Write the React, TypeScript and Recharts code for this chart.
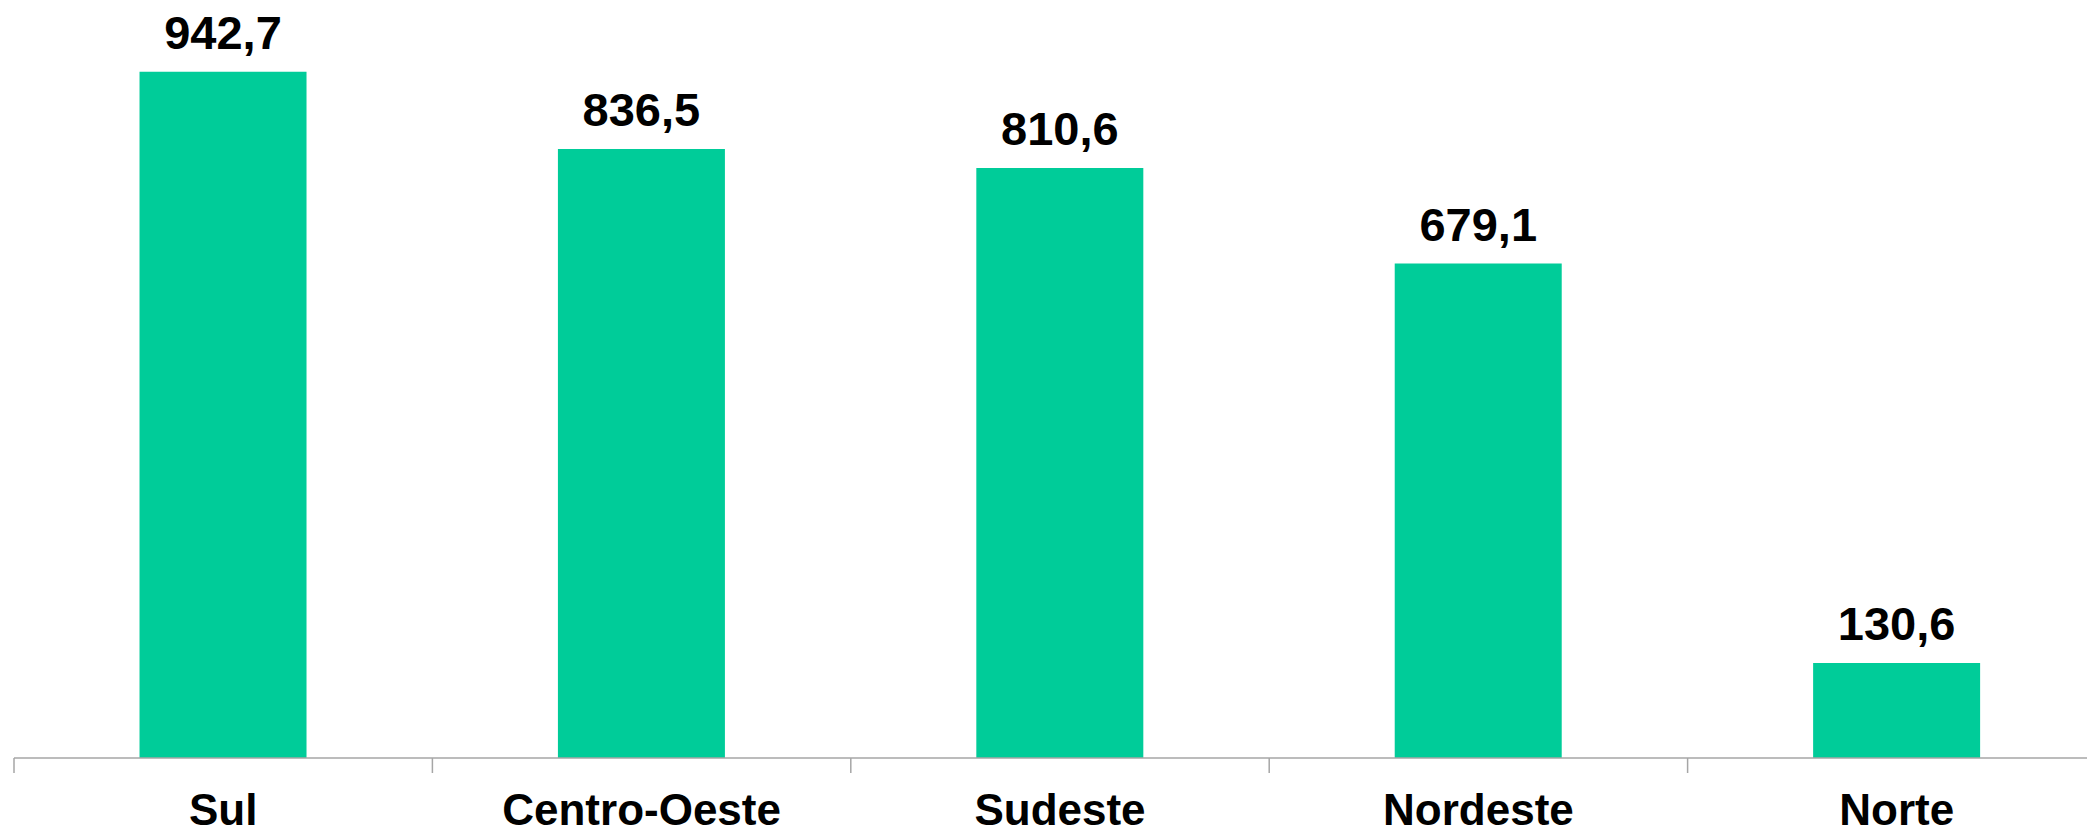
import { BarChart, Bar, XAxis, YAxis, LabelList } from "recharts";

// regiões e valores
const regioes = ["Sul", "Centro-Oeste", "Sudeste", "Nordeste", "Norte"];
const valores = [942.7, 836.5, 810.6, 679.1, 130.6];

const data = regioes.map((regiao, i) => ({ regiao, valor: valores[i] }));

const CHART_W = 2110;
const CHART_H = 836;
const MARGIN = { top: 30, right: 4, left: 14, bottom: 8 };
const BAND = (CHART_W - MARGIN.left - MARGIN.right) / regioes.length;

const formatValor = (v: number) => v.toFixed(1).replace(".", ",");

// tick do Excel: tracinhos entre as categorias, rótulo no centro
const CategoryTick = (props: any) => {
  const { x, y, payload, index } = props;
  const half = BAND / 2;
  return (
    <g>
      <line x1={x - half} x2={x - half} y1={y} y2={y + 15} stroke="#a6a6a6" strokeWidth={1.5} />
      {index === regioes.length - 1 && (
        <line x1={x + half} x2={x + half} y1={y} y2={y + 15} stroke="#a6a6a6" strokeWidth={1.5} />
      )}
      <text
        x={x}
        y={y + 67}
        textAnchor="middle"
        fontSize={44}
        fontWeight="bold"
        fill="#000"
        fontFamily="'Liberation Sans', Arial, sans-serif"
      >
        {payload.value}
      </text>
    </g>
  );
};

export default function App() {
  return (
    <div
      style={{
        position: "fixed",
        left: 0,
        top: 0,
        width: 2087,
        height: 836,
        overflow: "hidden",
        background: "#fff",
      }}
    >
      <BarChart width={CHART_W} height={CHART_H} data={data} margin={MARGIN} barCategoryGap="30%">
        <XAxis
          dataKey="regiao"
          height={70}
          stroke="#a6a6a6"
          strokeWidth={1.5}
          tickSize={0}
          tickMargin={0}
          tick={<CategoryTick />}
          interval={0}
        />
        <YAxis hide domain={[0, 1000]} />
        <Bar dataKey="valor" fill="#00CC99" isAnimationActive={false}>
          <LabelList
            dataKey="valor"
            position="top"
            offset={23}
            formatter={(v: any) => formatValor(Number(v))}
            style={{
              fontSize: 47,
              fontWeight: "bold",
              fill: "#000",
              fontFamily: "'Liberation Sans', Arial, sans-serif",
            }}
          />
        </Bar>
      </BarChart>
    </div>
  );
}
